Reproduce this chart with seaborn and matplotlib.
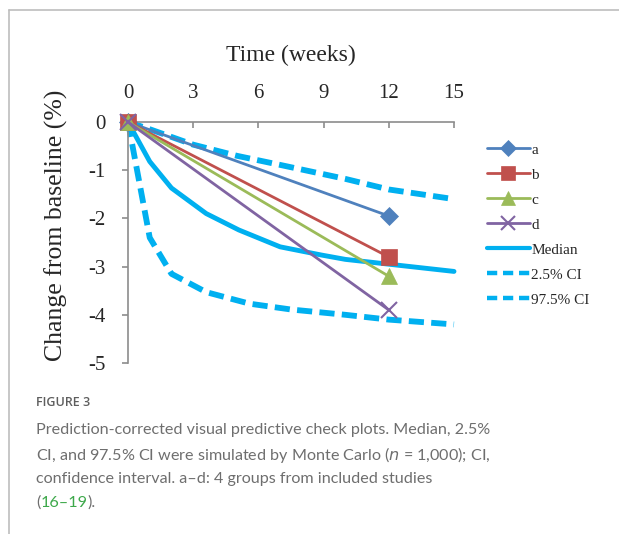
import matplotlib
matplotlib.use("Agg")
import matplotlib.pyplot as plt
import seaborn as sns
import pandas as pd
from matplotlib.lines import Line2D

# ---- data ----
group_names = ["a", "b", "c", "d"]
group_time = [0, 12]
group_a = [0, -1.95]
group_b = [0, -2.8]
group_c = [0, -3.2]
group_d = [0, -3.9]

median_time = [0, 1, 2, 3.6, 5.1, 7, 8.9, 10, 12, 15]
median_vals = [0, -0.82, -1.37, -1.9, -2.24, -2.59, -2.76, -2.85, -2.95, -3.1]

ci_hi_time = [0, 1, 3, 5, 7, 10, 12, 15]
ci_hi_vals = [0, -0.15, -0.47, -0.70, -0.89, -1.18, -1.4, -1.6]

ci_lo_time = [0, 1, 2, 3.6, 5.6, 7.5, 10, 12, 15]
ci_lo_vals = [0, -2.4, -3.15, -3.53, -3.77, -3.89, -4.0, -4.1, -4.2]

x_ticks = [0, 3, 6, 9, 12, 15]
y_ticks = [0, -1, -2, -3, -4, -5]
legend_labels = ["a", "b", "c", "d", "Median", "2.5% CI", "97.5% CI"]

# ---- style ----
sns.set_style("white")
plt.rcParams["axes.unicode_minus"] = False
serif = "Liberation Serif"

colors = {"a": "#4F81BD", "b": "#C0504D", "c": "#9BBB59", "d": "#8064A2"}
markers = {"a": "D", "b": "s", "c": "^", "d": "x"}
msizes = {"a": 9, "b": 11, "c": 11, "d": 11}
cyan = "#00B0F0"

fig = plt.figure(figsize=(6.19, 5.34), dpi=100)
ax = fig.add_axes([128 / 619, 1 - 363 / 534, 326 / 619, 241 / 534])

handles = []
for name, vals in zip(group_names, [group_a, group_b, group_c, group_d]):
    df = pd.DataFrame({"t": group_time, "v": vals})
    sns.lineplot(data=df, x="t", y="v", ax=ax, color=colors[name], lw=2.0,
                 marker=markers[name], markersize=msizes[name],
                 markeredgecolor=colors[name], markeredgewidth=1.5 if name == "d" else 0.5,
                 clip_on=False, zorder=3)
    handles.append(Line2D([0], [0], color=colors[name], lw=2.0, marker=markers[name],
                          markersize=msizes[name] - 1, markeredgecolor=colors[name],
                          markeredgewidth=1.5 if name == "d" else 0.5))

dash = (2.6, 1.25)
dfm = pd.DataFrame({"t": median_time, "v": median_vals})
sns.lineplot(data=dfm, x="t", y="v", ax=ax, color=cyan, lw=3.5, zorder=2, clip_on=False)
dfh = pd.DataFrame({"t": ci_hi_time, "v": ci_hi_vals})
sns.lineplot(data=dfh, x="t", y="v", ax=ax, color=cyan, lw=4.2, zorder=2, clip_on=False)
ax.lines[-1].set_dashes(dash)
dfl = pd.DataFrame({"t": ci_lo_time, "v": ci_lo_vals})
sns.lineplot(data=dfl, x="t", y="v", ax=ax, color=cyan, lw=4.2, zorder=2, clip_on=False)
ax.lines[-1].set_dashes(dash)

handles.append(Line2D([0], [0], color=cyan, lw=3.0))
handles.append(Line2D([0], [0], color=cyan, lw=3.2, dashes=(2.3, 1.3)))
handles.append(Line2D([0], [0], color=cyan, lw=3.2, dashes=(2.3, 1.3)))

ax.set_xlim(0, 15)
ax.set_ylim(-5, 0)
ax.xaxis.tick_top()
ax.xaxis.set_label_position("top")
ax.set_xticks(x_ticks)
ax.set_yticks(y_ticks)
ax.set_xticklabels([str(v) for v in x_ticks], fontfamily=serif, fontsize=15)
ax.set_yticklabels([str(v) for v in y_ticks], fontfamily=serif, fontsize=15)
ax.set_xlabel("Time (weeks)", fontfamily=serif, fontsize=17, labelpad=16)
ax.set_ylabel("Change from baseline (%)", fontfamily=serif, fontsize=18.5, labelpad=18)
ax.yaxis.set_label_coords((68 - 128) / 326, 1 - 103 / 241)

axis_grey = "#8C8C8C"
for s in ["right", "bottom"]:
    ax.spines[s].set_visible(False)
for s in ["top", "left"]:
    ax.spines[s].set_color(axis_grey)
    ax.spines[s].set_linewidth(1.2)
ax.tick_params(axis="x", which="both", direction="in", length=4, width=1.2,
               color=axis_grey, pad=14, top=True, bottom=False, labeltop=True, labelbottom=False)
ax.tick_params(axis="y", direction="out", length=4, width=1.2, color=axis_grey, pad=12, left=True)

leg = ax.legend(handles, legend_labels, loc="upper left", bbox_to_anchor=(487 / 619, 1 - 143 / 534),
                bbox_transform=fig.transFigure, frameon=False, handlelength=2.8,
                handletextpad=0.1, labelspacing=0.74, borderaxespad=0, borderpad=0,
                prop={"family": serif, "size": 11})

# frame around the figure panel
frame_c = "#BDBDBD"
fig.add_artist(Line2D([9 / 619, 1], [1 - 10 / 534, 1 - 10 / 534], transform=fig.transFigure,
                      color=frame_c, lw=1.2))
fig.add_artist(Line2D([9 / 619, 9 / 619], [1 - 10 / 534, 0], transform=fig.transFigure,
                      color=frame_c, lw=1.2))

# caption
cap_font = "Lato"
grey = "#6E6E6E"
fig.text(36 / 619, 1 - 402 / 534, "FIGURE 3", fontfamily="Open Sans", fontweight="semibold",
         fontsize=9, color="#5E5E5E", va="center", ha="left")
lines = [
    "Prediction-corrected visual predictive check plots. Median, 2.5%",
    "CI, and 97.5% CI were simulated by Monte Carlo ($\\it{n}$ = 1,000); CI,",
    "confidence interval. a\u2013d: 4 groups from included studies",
]
ys = [430, 455, 479]
cap_size = 11.65
for t, y in zip(lines, ys):
    fig.text(36 / 619, 1 - y / 534, t, fontfamily=cap_font, fontsize=cap_size, color=grey,
             va="center", ha="left")

t1 = fig.text(36 / 619, 1 - 503 / 534, "(", fontfamily=cap_font, fontsize=cap_size, color=grey,
              va="center", ha="left")
fig.canvas.draw()
r = fig.canvas.get_renderer()
x1 = t1.get_window_extent(r).x1
t2 = fig.text(x1 / fig.bbox.width, 1 - 503 / 534, "16\u201319", fontfamily=cap_font,
              fontsize=cap_size, color="#3DA84A", va="center", ha="left")
fig.canvas.draw()
x2 = t2.get_window_extent(r).x1
fig.text(x2 / fig.bbox.width, 1 - 503 / 534, ").", fontfamily=cap_font, fontsize=cap_size,
         color=grey, va="center", ha="left")

fig.savefig("out.png", dpi=100)
